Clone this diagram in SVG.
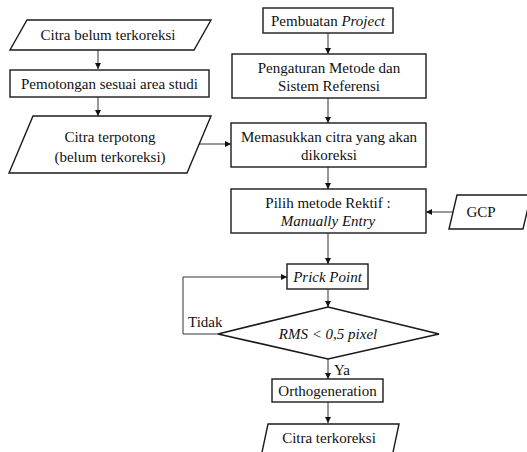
<svg xmlns="http://www.w3.org/2000/svg" width="527" height="452" viewBox="0 0 527 452">
<style>
.shape{fill:#fff;stroke:#1a1a1a;stroke-width:1.4}
.t{font-family:'Liberation Serif','DejaVu Serif',serif;font-size:15px;fill:#111;text-anchor:middle}
.i{font-style:italic}
.c{fill:none;stroke:#333;stroke-width:1}
</style>
<defs>
<marker id="ah" markerUnits="userSpaceOnUse" markerWidth="7" markerHeight="6" refX="6" refY="3" orient="auto">
<path d="M0,0 L6,3 L0,6 Z" fill="#111"/>
</marker>
</defs>
<rect width="527" height="452" fill="#fff"/>

<g id="connectors" font-family="Liberation Serif, serif">
<line class="c" x1="98" y1="50" x2="98" y2="69" marker-end="url(#ah)"/>
<line class="c" x1="98" y1="97" x2="98" y2="116" marker-end="url(#ah)"/>
<line class="c" x1="199" y1="144" x2="231" y2="144" marker-end="url(#ah)"/>
<line class="c" x1="328" y1="33" x2="328" y2="54" marker-end="url(#ah)"/>
<line class="c" x1="328" y1="98" x2="328" y2="123" marker-end="url(#ah)"/>
<line class="c" x1="328" y1="167" x2="328" y2="189" marker-end="url(#ah)"/>
<line class="c" x1="453" y1="212" x2="426" y2="212" marker-end="url(#ah)"/>
<line class="c" x1="328" y1="233" x2="328" y2="264" marker-end="url(#ah)"/>
<line class="c" x1="328" y1="289" x2="328" y2="307" marker-end="url(#ah)"/>
<polyline class="c" points="218,334 183,334 183,277 287,277" marker-end="url(#ah)"/>
<line class="c" x1="328" y1="359" x2="328" y2="379" marker-end="url(#ah)"/>
<line class="c" x1="328" y1="402" x2="328" y2="423" marker-end="url(#ah)"/>
<text class="t" x="188" y="327" style="text-anchor:start">Tidak</text>
<text class="t" x="334" y="375" style="text-anchor:start">Ya</text>
</g>

<g id="citra-belum">
<polygon class="shape" points="27,20 211,20 194,50 10,50"/>
<text class="t" x="108" y="40">Citra belum terkoreksi</text>
</g>
<g id="pemotongan">
<rect class="shape" x="10" y="70" width="199" height="27"/>
<text class="t" x="109.5" y="89">Pemotongan sesuai area studi</text>
</g>
<g id="citra-terpotong">
<polygon class="shape" points="33,116 211,116 187,173 9,173"/>
<text class="t" x="110" y="142">Citra terpotong</text>
<text class="t" x="110" y="162">(belum terkoreksi)</text>
</g>
<g id="pembuatan">
<rect class="shape" x="263" y="8" width="130" height="25"/>
<text class="t" x="328" y="26">Pembuatan <tspan class="i">Project</tspan></text>
</g>
<g id="pengaturan">
<rect class="shape" x="232" y="54" width="194" height="44"/>
<text class="t" x="329" y="73">Pengaturan Metode dan</text>
<text class="t" x="329" y="91">Sistem Referensi</text>
</g>
<g id="memasukkan">
<rect class="shape" x="231" y="123" width="195" height="44"/>
<text class="t" x="329" y="142">Memasukkan citra yang akan</text>
<text class="t" x="329" y="160">dikoreksi</text>
</g>
<g id="pilih">
<rect class="shape" x="231" y="189" width="195" height="44"/>
<text class="t" x="328" y="208">Pilih metode Rektif :</text>
<text class="t i" x="328" y="226">Manually Entry</text>
</g>
<g id="gcp">
<polygon class="shape" points="457,195 531,195 523,229 449,229"/>
<text class="t" x="481" y="217">GCP</text>
</g>
<g id="prick">
<rect class="shape" x="287" y="264" width="81" height="25"/>
<text class="t i" x="327.5" y="282">Prick Point</text>
</g>
<g id="rms">
<polygon class="shape" points="328,307 439,334 328,359 218,334" style="stroke-width:1.6"/>
<text class="t i" x="328" y="339">RMS &lt; 0,5 pixel</text>
</g>
<g id="ortho">
<rect class="shape" x="272" y="379" width="111" height="23"/>
<text class="t" x="327.5" y="396">Orthogeneration</text>
</g>
<g id="citra-terkoreksi">
<polygon class="shape" points="268,424 399,424 392,457 261,457"/>
<text class="t" x="329" y="443">Citra terkoreksi</text>
</g>
</svg>
